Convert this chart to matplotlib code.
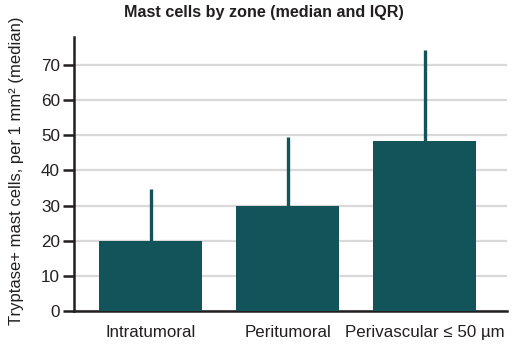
import matplotlib.pyplot as plt
import numpy as np

# data
zones = ["Intratumoral", "Peritumoral", "Perivascular \u2264 50 \u00b5m"]
medians = [20, 30, 48.5]
q3_upper = [34.8, 49.5, 74.4]

bar_color = "#13545a"
ink = "#231f20"

plt.rcParams['font.family'] = ['Liberation Sans', 'DejaVu Sans']

fig = plt.figure(figsize=(5.27, 3.55), dpi=100)
ax = fig.add_axes([0.14, 0.124, 0.822, 0.772])

x = np.arange(len(zones))
upper_err = np.array(q3_upper) - np.array(medians)

ax.bar(x, medians, width=0.75, color=bar_color, zorder=3)
ax.errorbar(x, medians, yerr=[np.zeros(len(x)), upper_err], fmt='none',
            ecolor=bar_color, elinewidth=2.4, capsize=0, zorder=4)

ax.set_xlim(-0.56, 2.6)
ax.set_ylim(0, 78)
ax.set_yticks(range(0, 80, 10))
ax.set_xticks(x)
ax.set_xticklabels(zones)

ax.yaxis.grid(True, color="#d9d9d9", linewidth=1.6, zorder=0)
ax.set_axisbelow(True)

for s in ['top', 'right']:
    ax.spines[s].set_visible(False)
for s in ['left', 'bottom']:
    ax.spines[s].set_color(ink)
    ax.spines[s].set_linewidth(1.8)

ax.tick_params(axis='y', length=8, width=1.8, color=ink, labelsize=12.3,
               labelcolor=ink, pad=2)
ax.tick_params(axis='x', length=0, labelsize=12.2, labelcolor=ink, pad=10)

ax.set_ylabel("Tryptase+ mast cells, per 1 mm\u00b2 (median)", fontsize=12,
              color=ink)
ax.yaxis.set_label_coords(-0.115, 0.51)
fig.suptitle("Mast cells by zone (median and IQR)", x=0.5, y=0.985,
             fontsize=11.6, fontweight='bold', color=ink)

fig.savefig("out.png", dpi=100)
